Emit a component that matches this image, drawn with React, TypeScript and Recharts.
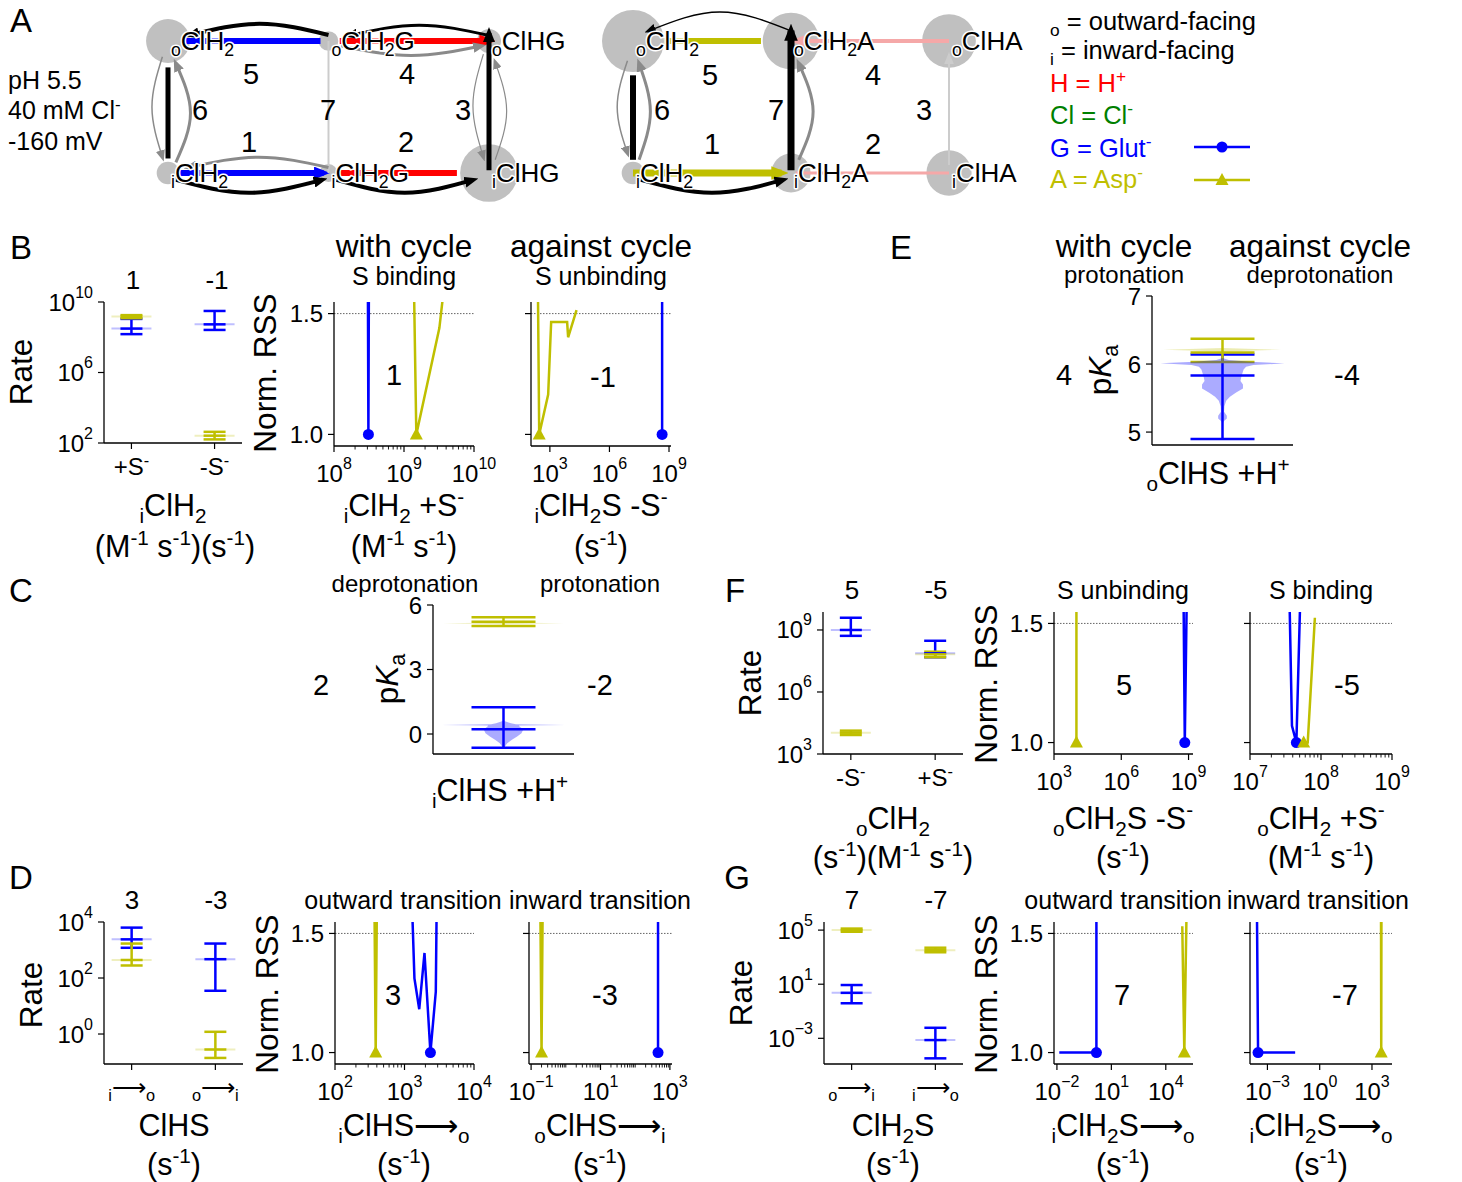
import React from 'react';
import { ComposedChart, Line, Scatter, XAxis, YAxis, ReferenceLine, ErrorBar } from 'recharts';

const BLUE = '#0000ff';
const YEL = '#bfbf00';
const RED = '#ff0000';
const GREEN = '#008000';
const PINK = '#f5a8a8';
const GRAY = '#8a8a8a';
const LGRAY = '#cccccc';
const DISK = '#c0c0c0';
const FONT = '"Liberation Sans", Arial, Helvetica, sans-serif';

// ---------- panel A: kinetic schemes ----------
// occ = relative occupancy of each state (disk area)
const glutNodes = [
  { id: 'oClH2', col: 0, row: 1, occ: 0.3, label: '_{o}ClH_{2}' },
  { id: 'oClH2G', col: 1, row: 1, occ: 0.06, label: '_{o}ClH_{2}G' },
  { id: 'oClHG', col: 2, row: 1, occ: 0.09, label: '_{o}ClHG' },
  { id: 'iClH2', col: 0, row: 0, occ: 0.08, label: '_{i}ClH_{2}' },
  { id: 'iClH2G', col: 1, row: 0, occ: 0.05, label: '_{i}ClH_{2}G' },
  { id: 'iClHG', col: 2, row: 0, occ: 0.52, label: '_{i}ClHG' },
];
// [from, to, kind, flux, arrow]
const glutEdges = [
  ['oClH2G', 'oClH2', 'S', 6, false],
  ['oClH2G', 'oClHG', 'H', 6, true],
  ['iClH2', 'iClH2G', 'S', 6, true],
  ['iClH2G', 'iClHG', 'H', 6, false],
  ['oClH2', 'iClH2', 'net', 5, false],
  ['iClHG', 'oClHG', 'net', 5, true],
  ['oClH2G', 'iClH2G', 'idle', 2, false],
  ['oClH2G', 'oClH2', 'net', 4, true],
  ['oClHG', 'oClH2G', 'net', 3, true],
  ['oClH2G', 'oClHG', 'dir', 3, true],
  ['oClH2', 'iClH2', 'dir', 1.5, true],
  ['iClH2', 'oClH2', 'dir', 3, true],
  ['oClHG', 'iClHG', 'dir', 1.2, true],
  ['iClHG', 'oClHG', 'dir', 1.2, true],
  ['iClH2G', 'iClH2', 'dir', 3, true],
  ['iClH2', 'iClH2G', 'net', 4, true],
  ['iClH2G', 'iClHG', 'net', 4, true],
];
// [bend, trim at start, trim at end]
const glutLayout = [
  [0, 0.05, 0.09], [0, 0.07, 0], [0, 0.07, 0.03], [0, 0.07, 0.2], [0, 0.2, 0.11],
  [0, 0.02, -0.06], [0, 0, 0], [0.13, 0, 0.14], [0.12, 0, 0.13], [-0.11, 0.08, 0.05],
  [-0.1, 0.12, 0.12], [0.14, 0.08, 0.17], [-0.1, 0.1, 0.12], [0.11, 0.1, 0.16],
  [0.12, 0, 0.13], [-0.15, 0.05, 0.04], [-0.15, 0.05, 0.1],
];

const aspNodes = [
  { id: 'oClH2', col: 0, row: 1, occ: 0.6, label: '_{o}ClH_{2}' },
  { id: 'oClH2A', col: 1, row: 1, occ: 0.5, label: '_{o}ClH_{2}A' },
  { id: 'oClHA', col: 2, row: 1, occ: 0.45, label: '_{o}ClHA' },
  { id: 'iClH2', col: 0, row: 0, occ: 0.08, label: '_{i}ClH_{2}' },
  { id: 'iClH2A', col: 1, row: 0, occ: 0.24, label: '_{i}ClH_{2}A' },
  { id: 'iClHA', col: 2, row: 0, occ: 0.32, label: '_{i}ClHA' },
];
const aspEdges = [
  ['oClH2A', 'oClH2', 'S', 6, false],
  ['oClHA', 'oClH2A', 'H', 4, true],
  ['iClH2', 'iClH2A', 'S', 7, true],
  ['iClH2A', 'iClHA', 'H', 3, false],
  ['oClH2', 'iClH2', 'net', 6, false],
  ['iClH2A', 'oClH2A', 'net', 7, true],
  ['iClHA', 'oClHA', 'idle', 2, true],
  ['oClH2A', 'oClH2', 'net', 1.5, true],
  ['oClH2', 'iClH2', 'dir', 1.5, true],
  ['iClH2', 'oClH2', 'dir', 3, true],
  ['iClH2A', 'oClH2A', 'dir', 3, true],
  ['iClH2', 'iClH2A', 'net', 4, true],
];
const aspLayout = [
  [0, 0.19, 0.2], [0, 0, 0.03], [0, 0, 0.06], [0, 0.03, 0], [0, 0.26, 0.1],
  [0, 0.02, -0.08], [0, 0.06, 0.12], [0.22, 0, 0.1], [-0.1, 0.15, 0.15],
  [0.11, 0.1, 0.17], [0.14, 0.1, 0.17], [-0.15, 0.05, 0.05],
];

// ---------- rate distributions: [min, median, max] per category ----------
const bCats = ['+S^{-}', '-S^{-}'];
const bRateBlue = [[1.5e8, 3.1e8, 1.1e9], [2.6e8, 5.4e8, 3.1e9]];
const bRateYellow = [[1.2e9, 1.5e9, 1.8e9], [160, 260, 430]];

const dCats = ['_{i}⟶_{o}', '_{o}⟶_{i}'];
const dRateBlue = [[1200, 2400, 6300], [35, 470, 1700]];
const dRateYellow = [[280, 440, 1700], [0.14, 0.28, 1.2]];

const fCats = ['-S^{-}', '+S^{-}'];
const fRateBlue = [[5.2e8, 1.0e9, 3.9e9], [4.8e7, 7.4e7, 3.0e8]];
const fRateYellow = [[8300, 1.07e4, 1.35e4], [4.8e7, 6.6e7, 8.9e7]];

const gCats = ['_{o}⟶_{i}', '_{i}⟶_{o}'];
const gRateBlue = [[0.39, 2.3, 8.7], [3.3e-5, 7.4e-4, 6.0e-3]];
const gRateYellow = [[7.6e4, 1.0e5, 1.3e5], [2300, 3300, 5000]];

// ---------- pKa distributions ----------
const cBlue = [-0.64, 0.22, 1.24];
const cYellow = [5.02, 5.22, 5.43];
const cVioBlue = [[0.62, 0], [0.5, 0.12], [0.45, 0.2], [0.42, 1], [0.39, 0.25], [0.34, 0.26], [0.22, 0.32], [0.03, 0.29], [-0.12, 0.22], [-0.28, 0.13], [-0.43, 0.06], [-0.59, 0.02], [-0.64, 0]];
const cVioYellow = [[5.19, 0], [5.15, 0.97], [5.11, 0]];

const eBlue = [4.9, 5.83, 6.14];
const eYellow = [6.03, 6.17, 6.37];
const eVioBlue = [[6.09, 0], [6.06, 0.1], [6.035, 0.45], [6.01, 1], [5.985, 0.5], [5.96, 0.38], [5.92, 0.34], [5.86, 0.32], [5.8, 0.3], [5.75, 0.29], [5.7, 0.33], [5.64, 0.33], [5.58, 0.22], [5.52, 0.12], [5.46, 0.06], [5.38, 0.03], [5.3, 0.025], [5.24, 0.07], [5.2, 0.07], [5.16, 0.02], [5.12, 0]];
const eVioYellow = [[6.235, 0], [6.21, 0.95], [6.185, 0]];

// ---------- RSS profiles: [parameter, normalised RSS]; best = [blue, yellow] ----------
const bBindBlue = [[3.05e8, 1.6], [3.1e8, 1.0], [3.15e8, 1.6]];
const bBindYellow = [[1.39e9, 1.6], [1.5e9, 1.0], [3.2e9, 1.44], [3.7e9, 1.6]];
const bBindBest = [3.1e8, 1.5e9];
const bUnbindBlue = [[4.5e8, 1.0], [4.5e8, 1.6]];
const bUnbindYellow = [[250, 1.6], [290, 1.0], [820, 1.165], [1160, 1.465], [7400, 1.465], [8300, 1.402], [2.2e4, 1.514]];
const bUnbindBest = [4.5e8, 290];

const dOutBlue = [[1290, 1.6], [1390, 1.311], [1630, 1.182], [1940, 1.418], [2360, 1.0], [2820, 1.255], [2900, 1.6]];
const dOutYellow = [[370, 1.6], [385, 1.0], [400, 1.6]];
const dOutBest = [2360, 385];
const dInBlue = [[455, 1.0], [455, 1.6]];
const dInYellow = [[0.185, 1.6], [0.2, 1.0], [0.215, 1.6]];
const dInBest = [455, 0.2];

const fUnbindBlue = [[6.0e8, 1.6], [6.8e8, 1.0], [8.3e8, 1.6]];
const fUnbindYellow = [[1.0e4, 1.0], [1.0e4, 1.6]];
const fUnbindBest = [6.8e8, 1.0e4];
const fBindBlue = [[3.6e7, 1.6], [3.9e7, 1.07], [4.5e7, 1.0], [5.1e7, 1.6]];
const fBindYellow = [[5.7e7, 1.0], [6.5e7, 1.0], [8.2e7, 1.524]];
const fBindBest = [4.5e7, 5.7e7];

const gOutBlue = [[0.0135, 1.0], [1.5, 1.0], [1.5, 1.6]];
const gOutYellow = [[8.1e4, 1.53], [1.05e5, 1.0], [1.4e5, 1.6]];
const gOutBest = [1.5, 1.05e5];
const gInBlue = [[2.5e-4, 1.6], [2.9e-4, 1.0], [0.039, 1.0]];
const gInYellow = [[3300, 1.6], [3400, 1.0], [3500, 1.6]];
const gInBest = [2.9e-4, 3400];

// ---------- layout ----------
const AW = 64;
const AH = 46;
const MT = 24;
const MR = 34;
const AXL = { stroke: '#000', strokeWidth: 1.3 };
const RSS_DOM = [0.952, 1.548];
const VW = 0.88;

const R: any = {
  bRate: { x0: 104, x1: 242, y0: 302, y1: 443 },
  bBind: { x0: 334, x1: 474, y0: 302, y1: 446 },
  bUnbind: { x0: 531, x1: 671, y0: 302, y1: 446 },
  c: { x0: 433, x1: 574, y0: 605, y1: 754 },
  e: { x0: 1152, x1: 1293, y0: 296, y1: 445 },
  dRate: { x0: 104, x1: 243, y0: 922, y1: 1064 },
  dOut: { x0: 335, x1: 474, y0: 922, y1: 1064 },
  dIn: { x0: 529, x1: 672, y0: 922, y1: 1064 },
  fRate: { x0: 823, x1: 963, y0: 612, y1: 754 },
  fUnbind: { x0: 1054, x1: 1193, y0: 612, y1: 754 },
  fBind: { x0: 1250, x1: 1392, y0: 612, y1: 754 },
  gRate: { x0: 824, x1: 963, y0: 922, y1: 1064 },
  gOut: { x0: 1054, x1: 1193, y0: 922, y1: 1064 },
  gIn: { x0: 1250, x1: 1392, y0: 922, y1: 1064 },
};

const minors = (lo: number, hi: number) => {
  const t: number[] = [];
  for (let e = lo; e < hi; e++) for (let m = 2; m <= 9; m++) t.push(m * Math.pow(10, e));
  return t;
};
const expStr = (e: number) => (e < 0 ? '−' + -e : String(e));

// tiny markup: _{sub} ^{sup} ~{italic}
function rich(s: string, size: number) {
  const parts: { t: string; k: string }[] = [];
  const re = /([_^~])\{([^}]*)\}/g;
  let last = 0;
  let m: any;
  while ((m = re.exec(s))) {
    if (m.index > last) parts.push({ t: s.slice(last, m.index), k: 'n' });
    parts.push({ t: m[2], k: m[1] });
    last = re.lastIndex;
  }
  if (last < s.length) parts.push({ t: s.slice(last), k: 'n' });
  let cur = 0;
  return parts.map((p, i) => {
    const shift = p.k === '_' ? size * 0.22 : p.k === '^' ? -size * 0.38 : 0;
    const dy = shift - cur;
    cur = shift;
    const small = p.k === '_' || p.k === '^';
    return (
      <tspan key={i} dy={dy} fontSize={small ? size * 0.68 : size} fontStyle={p.k === '~' ? 'italic' : undefined}>
        {p.t}
      </tspan>
    );
  });
}

function T({ x, y, s, size = 24, anchor = 'middle', color = '#000', rot = false }: any) {
  return (
    <text x={x} y={y + size * 0.36} fontSize={size} textAnchor={anchor} fill={color}
      transform={rot ? `rotate(-90 ${x} ${y})` : undefined}>
      {rich(s, size)}
    </text>
  );
}

// ---------- ticks ----------
function XTick(props: any) {
  const { x, payload, axY, labeled } = props;
  const lg = Math.log10(payload.value);
  const e = Math.round(lg);
  const major = Math.abs(lg - e) < 1e-9 && labeled.includes(e);
  return (
    <g>
      <line x1={x} x2={x} y1={axY} y2={axY + (major ? 6 : 3.5)} stroke="#000" strokeWidth={major ? 1.2 : 0.9} />
      {major && (
        <text x={x} y={axY + 36} textAnchor="middle" fontSize={24} fill="#000">
          10<tspan dy={-13} fontSize={16}>{expStr(e)}</tspan>
        </text>
      )}
    </g>
  );
}

function YTick(props: any) {
  const { y, payload, mode } = props;
  const v = payload.value;
  let label: any = null;
  if (mode === 'log') {
    const e = Math.round(Math.log10(v));
    label = (<>10<tspan dy={-13} fontSize={16}>{expStr(e)}</tspan></>);
  } else if (mode === 'rss') label = v.toFixed(1);
  else if (mode === 'num') label = String(v);
  return (
    <g>
      <line x1={AW - 6} x2={AW} y1={y} y2={y} stroke="#000" strokeWidth={1.2} />
      {label !== null && (
        <text x={AW - 11} y={y + 8.5} textAnchor="end" fontSize={24} fill="#000">{label}</text>
      )}
    </g>
  );
}

function CatTick(props: any) {
  const { x, payload, axY, cats } = props;
  return (
    <g>
      <line x1={x} x2={x} y1={axY} y2={axY + 6} stroke="#000" strokeWidth={1.2} />
      <text x={x} y={axY + 32} textAnchor="middle" fontSize={24} fill="#000">{rich(cats[payload.value], 24)}</text>
    </g>
  );
}

// ---------- shapes ----------
const Dot = (p: any) => <circle cx={p.cx} cy={p.cy} r={5.5} fill={BLUE} />;
const Tri = (p: any) => (
  <polygon points={`${p.cx},${p.cy - 7} ${p.cx - 6.5},${p.cy + 5} ${p.cx + 6.5},${p.cy + 5}`} fill={YEL} />
);
const Nothing = () => <g />;
const capShape = (color: string, half: number, glow: number) => (p: any) => (
  <g>
    {glow > 0 && (
      <line x1={p.cx - glow} x2={p.cx + glow} y1={p.cy} y2={p.cy} stroke={color} strokeOpacity={0.25} strokeWidth={2} />
    )}
    <line x1={p.cx - half} x2={p.cx + half} y1={p.cy} y2={p.cy} stroke={color} strokeWidth={2.5} />
  </g>
);
const fillPath = (color: string, op: number) => (lp: any) => (
  <path d={'M' + lp.points.map((q: any) => `${q.x},${q.y}`).join('L') + 'Z'} fill={color} fillOpacity={op} stroke="none" />
);
const outline = (prof: number[][], half: number) => [
  ...prof.map(([y, w]) => ({ x: w * half, y })),
  ...prof.slice().reverse().map(([y, w]) => ({ x: -w * half, y })),
];

function Frame({ r, children }: any) {
  const w = r.x1 - r.x0 + AW + MR;
  const h = r.y1 - r.y0 + MT + AH;
  return (
    <div style={{ position: 'absolute', left: r.x0 - AW, top: r.y0 - MT }}>
      <ComposedChart width={w} height={h} margin={{ top: MT, right: MR, bottom: 0, left: 0 }}>
        {children}
      </ComposedChart>
    </div>
  );
}

function RatePanel({ r, dom, ticks, cats, blue, yellow }: any) {
  const axY = MT + (r.y1 - r.y0);
  const rows = (a: number[][]) => a.map(([lo, med, hi], i) => ({ x: i, y: med, err: [med - lo, hi - med] }));
  return (
    <Frame r={r}>
      <XAxis type="number" dataKey="x" domain={[-0.33, 1.33]} allowDataOverflow ticks={[0, 1]} interval={0}
        height={AH} tickSize={6} tickMargin={0} tickLine={false} axisLine={AXL}
        tick={(p: any) => <CatTick {...p} axY={axY} cats={cats} />} />
      <YAxis type="number" dataKey="y" scale="log" domain={dom} allowDataOverflow ticks={ticks} interval={0}
        width={AW} tickSize={6} tickMargin={0} tickLine={false} axisLine={AXL}
        tick={(p: any) => <YTick {...p} mode="log" />} />
      <Scatter data={rows(blue)} shape={capShape(BLUE, 11, 20)} isAnimationActive={false}>
        <ErrorBar dataKey="err" direction="y" width={11} stroke={BLUE} strokeWidth={2.5} />
      </Scatter>
      <Scatter data={rows(yellow)} shape={capShape(YEL, 11, 20)} isAnimationActive={false}>
        <ErrorBar dataKey="err" direction="y" width={11} stroke={YEL} strokeWidth={2.5} />
      </Scatter>
    </Frame>
  );
}

function RssPanel({ r, dom, ticks, labeled, blue, yellow, best, yLabels }: any) {
  const axY = MT + (r.y1 - r.y0);
  const pts = (a: number[][]) => a.map(([x, y]) => ({ x, y }));
  return (
    <Frame r={r}>
      <XAxis type="number" dataKey="x" scale="log" domain={dom} allowDataOverflow ticks={ticks} interval={0}
        height={AH} tickSize={6} tickMargin={0} tickLine={false} axisLine={AXL}
        tick={(p: any) => <XTick {...p} axY={axY} labeled={labeled} />} />
      <YAxis type="number" dataKey="y" domain={RSS_DOM} allowDataOverflow ticks={[1, 1.5]} interval={0}
        width={AW} tickSize={6} tickMargin={0} tickLine={false} axisLine={AXL}
        tick={(p: any) => <YTick {...p} mode={yLabels ? 'rss' : 'none'} />} />
      <ReferenceLine y={1.5} stroke="#666" strokeWidth={1} strokeDasharray="1.5 1.5" />
      <Line data={pts(yellow)} dataKey="y" type="linear" stroke={YEL} strokeWidth={2.5} dot={false} activeDot={false} isAnimationActive={false} />
      <Line data={pts(blue)} dataKey="y" type="linear" stroke={BLUE} strokeWidth={2.5} dot={false} activeDot={false} isAnimationActive={false} />
      <Scatter data={[{ x: best[0], y: 1 }]} shape={Dot} isAnimationActive={false} />
      <Scatter data={[{ x: best[1], y: 1 }]} shape={Tri} isAnimationActive={false} />
    </Frame>
  );
}

function PkaPanel({ r, dom, ticks, blue, yellow, vBlue, vYellow }: any) {
  const row = ([lo, med, hi]: number[]) => [{ x: 0, y: med, err: [med - lo, hi - med] }];
  return (
    <Frame r={r}>
      <XAxis type="number" dataKey="x" domain={[-1, 1]} allowDataOverflow ticks={[0]} height={AH}
        tick={false} tickLine={false} axisLine={AXL} />
      <YAxis type="number" dataKey="y" domain={dom} allowDataOverflow ticks={ticks} interval={0}
        width={AW} tickSize={6} tickMargin={0} tickLine={false} axisLine={AXL}
        tick={(p: any) => <YTick {...p} mode="num" />} />
      <Scatter data={outline(vYellow, VW)} shape={Nothing} line={fillPath(YEL, 0.3)} isAnimationActive={false} />
      <Scatter data={outline(vBlue, VW)} shape={Nothing} line={fillPath(BLUE, 0.33)} isAnimationActive={false} />
      <Scatter data={row(blue)} shape={capShape(BLUE, 32, 0)} isAnimationActive={false}>
        <ErrorBar dataKey="err" direction="y" width={32} stroke={BLUE} strokeWidth={2.5} />
      </Scatter>
      <Scatter data={row(yellow)} shape={capShape(YEL, 32, 0)} isAnimationActive={false}>
        <ErrorBar dataKey="err" direction="y" width={32} stroke={YEL} strokeWidth={2.5} />
      </Scatter>
    </Frame>
  );
}

// ---------- scheme ----------
function edgePts(a: any, b: any, lay: number[]) {
  const [bend, t0, t1] = lay;
  if (a.row === b.row) {
    const d = Math.sign(b.col - a.col);
    const sx = a.col + d * t0;
    const ex = b.col - d * t1;
    if (!bend) return [{ x: sx, y: a.row }, { x: ex, y: b.row }];
    const yy = a.row + bend * 0.35;
    return [{ x: sx, y: yy }, { x: (sx + ex) / 2, y: a.row + bend }, { x: ex, y: yy }];
  }
  const d = Math.sign(b.row - a.row);
  const sy = a.row + d * t0;
  const ey = b.row - d * t1;
  if (!bend) return [{ x: a.col, y: sy }, { x: b.col, y: ey }];
  const xx = a.col + bend * 0.35;
  return [{ x: xx, y: sy }, { x: a.col + bend, y: (sy + ey) / 2 }, { x: xx, y: ey }];
}

const NodeDisk = (p: any) => <circle cx={p.cx} cy={p.cy} r={40 * Math.sqrt(p.payload.occ)} fill={DISK} />;
const NodeLabel = (p: any) => (
  <text x={p.cx + 3} y={p.cy + 9} fontSize={26} fill="#000" stroke="#fff" strokeWidth={3}
    strokeLinejoin="round" style={{ paintOrder: 'stroke' }}>
    {rich(p.payload.label, 26)}
  </text>
);

function Scheme({ id, nodes, edges, layout, colors, left, width, c0, cs }: any) {
  const height = 215;
  const r0 = 173;
  const rs = 132;
  const xd = [(0 - c0) / cs, (width - c0) / cs];
  const yd = [(r0 - height) / rs, r0 / rs];
  const pos: any = {};
  nodes.forEach((n: any) => (pos[n.id] = n));
  const pts = nodes.map((n: any) => ({ x: n.col, y: n.row, occ: n.occ, label: n.label }));
  const m = { top: 0, right: 0, bottom: 0, left: 0 };
  const lay = { position: 'absolute' as const, left, top: 0 };
  return (
    <>
      <div style={lay}>
        <ComposedChart width={width} height={height} margin={m}>
          <XAxis type="number" dataKey="x" domain={xd} allowDataOverflow hide />
          <YAxis type="number" dataKey="y" domain={yd} allowDataOverflow hide />
          <Scatter data={pts} shape={NodeDisk} isAnimationActive={false} />
        </ComposedChart>
      </div>
      <div style={lay}>
        <ComposedChart width={width} height={height} margin={m}>
          <defs>
            {edges.map((e: any, i: number) =>
              e[4] ? (
                <marker key={i} id={`${id}ah${i}`} viewBox="0 0 10 10" refX={6} refY={5}
                  markerWidth={10 + e[3]} markerHeight={(10 + e[3]) * 0.8} orient="auto"
                  markerUnits="userSpaceOnUse" preserveAspectRatio="none">
                  <path d="M0,0 L10,5 L0,10 z" fill={colors[e[2]]} />
                </marker>
              ) : null
            )}
          </defs>
          <XAxis type="number" dataKey="x" domain={xd} allowDataOverflow hide />
          <YAxis type="number" dataKey="y" domain={yd} allowDataOverflow hide />
          {edges.map((e: any, i: number) => (
            <Line key={i} data={edgePts(pos[e[0]], pos[e[1]], layout[i])} dataKey="y"
              type={layout[i][0] ? 'natural' : 'linear'} stroke={colors[e[2]]} strokeWidth={e[3]}
              dot={false} activeDot={false} isAnimationActive={false}
              markerEnd={e[4] ? `url(#${id}ah${i})` : undefined} />
          ))}
        </ComposedChart>
      </div>
      <div style={lay}>
        <ComposedChart width={width} height={height} margin={m}>
          <XAxis type="number" dataKey="x" domain={xd} allowDataOverflow hide />
          <YAxis type="number" dataKey="y" domain={yd} allowDataOverflow hide />
          <Scatter data={pts} shape={NodeLabel} isAnimationActive={false} />
        </ComposedChart>
      </div>
    </>
  );
}

function Overlay() {
  const H = 31.5; // axis titles and headers
  const X = 30.5; // x-axis labels
  const N = 29; // step numbers in RSS panels
  return (
    <svg width={1462} height={1182} style={{ position: 'absolute', left: 0, top: 0, pointerEvents: 'none', fontFamily: FONT }}>
      {/* panel letters */}
      <T x={21} y={20} s="A" size={33} />
      <T x={21} y={247} s="B" size={33} />
      <T x={21} y={590} s="C" size={33} />
      <T x={21} y={877} s="D" size={33} />
      <T x={901} y={247} s="E" size={33} />
      <T x={735} y={590} s="F" size={33} />
      <T x={737} y={877} s="G" size={33} />

      {/* panel A */}
      <T x={8} y={80} s="pH 5.5" size={25} anchor="start" />
      <T x={8} y={110} s="40 mM Cl^{-}" size={25} anchor="start" />
      <T x={8} y={141} s="-160 mV" size={25} anchor="start" />
      {[['5', 251, 74], ['4', 407, 74], ['6', 200, 110], ['7', 328, 110], ['3', 463, 110], ['1', 249, 142], ['2', 406, 142],
        ['5', 710, 75], ['4', 873, 75], ['6', 662, 110], ['7', 776, 110], ['3', 924, 110], ['1', 712, 144], ['2', 873, 144]].map(
        ([s, x, y]: any, i) => <T key={i} x={x} y={y} s={s} size={29} />
      )}
      <T x={1050} y={21} s="_{o} = outward-facing" size={25.5} anchor="start" />
      <T x={1050} y={50} s="_{i} = inward-facing" size={25.5} anchor="start" />
      <T x={1050} y={83} s="H = H^{+}" size={25.5} anchor="start" color={RED} />
      <T x={1050} y={115} s="Cl = Cl^{-}" size={25.5} anchor="start" color={GREEN} />
      <T x={1050} y={148} s="G = Glut^{-}" size={25.5} anchor="start" color={BLUE} />
      <T x={1050} y={179} s="A = Asp^{-}" size={25.5} anchor="start" color={YEL} />
      <line x1={1194} x2={1250} y1={147} y2={147} stroke={BLUE} strokeWidth={2.5} />
      <circle cx={1222} cy={147} r={5.5} fill={BLUE} />
      <line x1={1194} x2={1250} y1={180} y2={180} stroke={YEL} strokeWidth={2.5} />
      <polygon points="1222,173 1215.5,185 1228.5,185" fill={YEL} />

      {/* panel B */}
      <T x={133} y={280} s="1" size={26} />
      <T x={217} y={280} s="-1" size={26} />
      <T x={21} y={372} s="Rate" size={H} rot />
      <T x={173} y={505} s="_{i}ClH_{2}" size={X} />
      <T x={175} y={546} s="(M^{-1} s^{-1})(s^{-1})" size={X} />
      <T x={404} y={246} s="with cycle" size={H} />
      <T x={404} y={276} s="S binding" size={25} />
      <T x={601} y={246} s="against cycle" size={H} />
      <T x={601} y={276} s="S unbinding" size={25} />
      <T x={265} y={373} s="Norm. RSS" size={H} rot />
      <T x={394} y={375} s="1" size={N} />
      <T x={603} y={377} s="-1" size={N} />
      <T x={404} y={505} s="_{i}ClH_{2} +S^{-}" size={X} />
      <T x={404} y={546} s="(M^{-1} s^{-1})" size={X} />
      <T x={601} y={505} s="_{i}ClH_{2}S -S^{-}" size={X} />
      <T x={601} y={546} s="(s^{-1})" size={X} />

      {/* panel C */}
      <T x={405} y={583} s="deprotonation" size={24} />
      <T x={600} y={583} s="protonation" size={24} />
      <T x={321} y={685} s="2" size={N} />
      <T x={600} y={685} s="-2" size={N} />
      <T x={387} y={679} s="p~{K}_{a}" size={H} rot />
      <T x={500} y={790} s="_{i}ClHS +H^{+}" size={X} />

      {/* panel D */}
      <T x={132} y={900} s="3" size={26} />
      <T x={216} y={900} s="-3" size={26} />
      <T x={31} y={995} s="Rate" size={H} rot />
      <T x={403} y={900} s="outward transition" size={25} />
      <T x={600} y={900} s="inward transition" size={25} />
      <T x={267} y={994} s="Norm. RSS" size={H} rot />
      <T x={393} y={995} s="3" size={N} />
      <T x={605} y={995} s="-3" size={N} />
      <T x={174} y={1125} s="ClHS" size={X} />
      <T x={174} y={1164} s="(s^{-1})" size={X} />
      <T x={404} y={1125} s="_{i}ClHS⟶_{o}" size={X} />
      <T x={404} y={1164} s="(s^{-1})" size={X} />
      <T x={600} y={1125} s="_{o}ClHS⟶_{i}" size={X} />
      <T x={600} y={1164} s="(s^{-1})" size={X} />

      {/* panel E */}
      <T x={1124} y={246} s="with cycle" size={H} />
      <T x={1320} y={246} s="against cycle" size={H} />
      <T x={1124} y={274} s="protonation" size={24} />
      <T x={1320} y={274} s="deprotonation" size={24} />
      <T x={1064} y={375} s="4" size={N} />
      <T x={1347} y={375} s="-4" size={N} />
      <T x={1100} y={370} s="p~{K}_{a}" size={H} rot />
      <T x={1218} y={473} s="_{o}ClHS +H^{+}" size={X} />

      {/* panel F */}
      <T x={852} y={590} s="5" size={26} />
      <T x={936} y={590} s="-5" size={26} />
      <T x={750} y={683} s="Rate" size={H} rot />
      <T x={1123} y={590} s="S unbinding" size={25} />
      <T x={1321} y={590} s="S binding" size={25} />
      <T x={986} y={684} s="Norm. RSS" size={H} rot />
      <T x={1124} y={685} s="5" size={N} />
      <T x={1347} y={685} s="-5" size={N} />
      <T x={893} y={818} s="_{o}ClH_{2}" size={X} />
      <T x={893} y={857} s="(s^{-1})(M^{-1} s^{-1})" size={X} />
      <T x={1123} y={818} s="_{o}ClH_{2}S -S^{-}" size={X} />
      <T x={1123} y={857} s="(s^{-1})" size={X} />
      <T x={1321} y={818} s="_{o}ClH_{2} +S^{-}" size={X} />
      <T x={1321} y={857} s="(M^{-1} s^{-1})" size={X} />

      {/* panel G */}
      <T x={852} y={900} s="7" size={26} />
      <T x={936} y={900} s="-7" size={26} />
      <T x={741} y={993} s="Rate" size={H} rot />
      <T x={1123} y={900} s="outward transition" size={25} />
      <T x={1318} y={900} s="inward transition" size={25} />
      <T x={986} y={994} s="Norm. RSS" size={H} rot />
      <T x={1122} y={995} s="7" size={N} />
      <T x={1345} y={995} s="-7" size={N} />
      <T x={893} y={1125} s="ClH_{2}S" size={X} />
      <T x={893} y={1164} s="(s^{-1})" size={X} />
      <T x={1123} y={1125} s="_{i}ClH_{2}S⟶_{o}" size={X} />
      <T x={1123} y={1164} s="(s^{-1})" size={X} />
      <T x={1321} y={1125} s="_{i}ClH_{2}S⟶_{o}" size={X} />
      <T x={1321} y={1164} s="(s^{-1})" size={X} />
    </svg>
  );
}

export default function App() {
  return (
    <div style={{ position: 'absolute', left: 0, top: 0, width: 1462, height: 1182, background: '#fff', fontFamily: FONT, overflow: 'hidden' }}>
      <Scheme id="g" nodes={glutNodes} edges={glutEdges} layout={glutLayout}
        colors={{ S: BLUE, H: RED, net: '#000', dir: GRAY, idle: LGRAY }} left={60} width={560} c0={108} cs={160.5} />
      <Scheme id="a" nodes={aspNodes} edges={aspEdges} layout={aspLayout}
        colors={{ S: YEL, H: PINK, net: '#000', dir: GRAY, idle: LGRAY }} left={560} width={520} c0={73} cs={158} />

      <RatePanel r={R.bRate} dom={[1e2, 1e10]} ticks={[1e2, 1e6, 1e10]} cats={bCats} blue={bRateBlue} yellow={bRateYellow} />
      <RssPanel r={R.bBind} dom={[1e8, 1e10]} ticks={[1e8, 1e9, 1e10, ...minors(8, 10)]} labeled={[8, 9, 10]}
        blue={bBindBlue} yellow={bBindYellow} best={bBindBest} yLabels />
      <RssPanel r={R.bUnbind} dom={[112, 1.26e9]} ticks={[1e3, 1e6, 1e9]} labeled={[3, 6, 9]}
        blue={bUnbindBlue} yellow={bUnbindYellow} best={bUnbindBest} />

      <PkaPanel r={R.c} dom={[-0.93, 6]} ticks={[0, 3, 6]} blue={cBlue} yellow={cYellow} vBlue={cVioBlue} vYellow={cVioYellow} />
      <PkaPanel r={R.e} dom={[4.81, 7]} ticks={[5, 6, 7]} blue={eBlue} yellow={eYellow} vBlue={eVioBlue} vYellow={eVioYellow} />

      <RatePanel r={R.dRate} dom={[0.085, 1e4]} ticks={[1, 1e2, 1e4]} cats={dCats} blue={dRateBlue} yellow={dRateYellow} />
      <RssPanel r={R.dOut} dom={[1e2, 1e4]} ticks={[1e2, 1e3, 1e4, ...minors(2, 4)]} labeled={[2, 3, 4]}
        blue={dOutBlue} yellow={dOutYellow} best={dOutBest} yLabels />
      <RssPanel r={R.dIn} dom={[0.087, 1150]} ticks={[0.1, 1, 10, 100, 1000, ...minors(-1, 3)]} labeled={[-1, 1, 3]}
        blue={dInBlue} yellow={dInYellow} best={dInBest} />

      <RatePanel r={R.fRate} dom={[1e3, 7.4e9]} ticks={[1e3, 1e6, 1e9]} cats={fCats} blue={fRateBlue} yellow={fRateYellow} />
      <RssPanel r={R.fUnbind} dom={[1e3, 1.58e9]} ticks={[1e3, 1e6, 1e9]} labeled={[3, 6, 9]}
        blue={fUnbindBlue} yellow={fUnbindYellow} best={fUnbindBest} yLabels />
      <RssPanel r={R.fBind} dom={[1e7, 1e9]} ticks={[1e7, 1e8, 1e9, ...minors(7, 9)]} labeled={[7, 8, 9]}
        blue={fBindBlue} yellow={fBindYellow} best={fBindBest} />

      <RatePanel r={R.gRate} dom={[1.26e-5, 3.98e5]} ticks={[1e-3, 10, 1e5]} cats={gCats} blue={gRateBlue} yellow={gRateYellow} />
      <RssPanel r={R.gOut} dom={[6.9e-3, 3.16e5]} ticks={[1e-2, 10, 1e4]} labeled={[-2, 1, 4]}
        blue={gOutBlue} yellow={gOutYellow} best={gOutBest} yLabels />
      <RssPanel r={R.gIn} dom={[1e-4, 1.41e4]} ticks={[1e-3, 1, 1e3]} labeled={[-3, 0, 3]}
        blue={gInBlue} yellow={gInYellow} best={gInBest} />

      <Overlay />
    </div>
  );
}
